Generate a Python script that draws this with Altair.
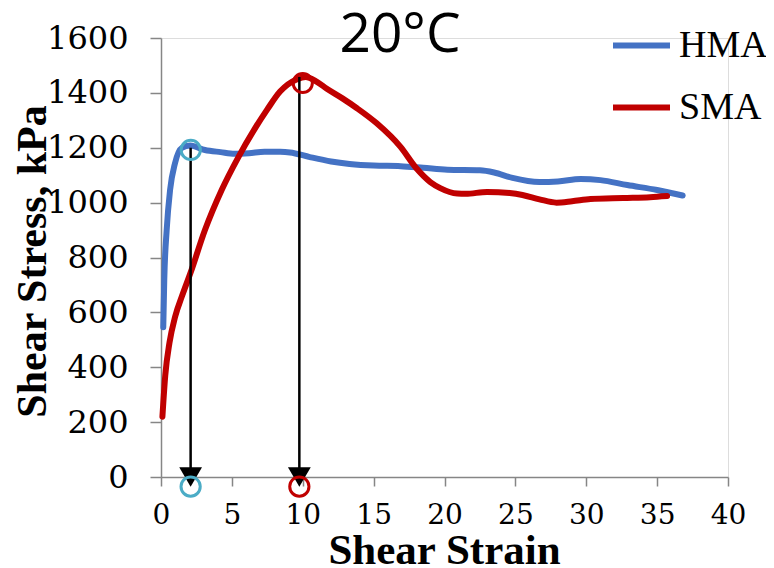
import altair as alt
import pandas as pd

# ---- data ----
hma_strain = [0.16, 0.23, 0.40, 0.64, 0.99, 1.46, 2.05, 3.1, 4.2, 5.2, 6.2, 7.3, 8.4, 9.1,
              10.5, 12.0, 13.3, 15.0, 16.9, 18.5, 20.2, 22.5, 23.5, 24.8, 26.7, 28.0,
              29.6, 31.0, 32.9, 35.0, 36.8]
hma_stress = [546, 718, 900, 1046, 1144, 1199, 1208, 1192, 1184, 1178, 1180, 1185, 1185, 1183,
              1166, 1150, 1141, 1135, 1133, 1127, 1120, 1118, 1110, 1090, 1075, 1077,
              1086, 1082, 1064, 1046, 1026]
sma_strain = [0.1, 0.3, 0.6, 1.0, 1.5, 2.09, 3.1, 4.28, 5.46, 6.6, 7.5, 8.4, 9.6, 10.2,
              11.0, 11.7, 12.8, 13.8, 15.2, 16.9, 18.0, 19.0, 19.7, 20.9, 21.5, 23.0,
              24.6, 25.5, 26.7, 27.9, 29.0, 30.3, 32.6, 34.5, 35.7]
sma_stress = [220, 370, 490, 585, 662, 745, 900, 1046, 1166, 1268, 1340, 1405, 1450, 1458,
              1440, 1415, 1380, 1345, 1290, 1203, 1126, 1075, 1053, 1033, 1032, 1039,
              1035, 1028, 1012, 1000, 1005, 1013, 1017, 1020, 1024]

series = ["HMA", "SMA"]
series_colors = ["#4472C4", "#C00000"]
title_text = ["20°C"]

# peak markers
hma_peak = (2.1, 1192)
sma_peak = (10.0, 1436)
arrow_x = [2.09, 9.76]
arrow_top = [1200, 1458]
arrow_end = [0, 0]
proj_y = -35  # projected circles below the axis

curves = pd.concat([
    pd.DataFrame({"strain": hma_strain, "stress": hma_stress, "series": "HMA",
                  "i": range(len(hma_strain))}),
    pd.DataFrame({"strain": sma_strain, "stress": sma_stress, "series": "SMA",
                  "i": range(len(sma_strain))}),
])
arrows = pd.DataFrame({"x": arrow_x, "top": arrow_top, "end": arrow_end})
hma_marks = pd.DataFrame({"x": [hma_peak[0], arrow_x[0]], "y": [hma_peak[1], proj_y]})
sma_marks = pd.DataFrame({"x": [sma_peak[0], arrow_x[1]], "y": [sma_peak[1], proj_y]})

xscale = alt.Scale(domain=[0, 40], nice=False, zero=False)
yscale = alt.Scale(domain=[0, 1600], nice=False)

gray = "#868686"
xaxis = alt.Axis(values=list(range(0, 41, 5)), grid=False, tickSize=9, tickWidth=1.5,
                 domainWidth=1.5, domainColor=gray, tickColor=gray, labelFlush=False,
                 labelFont="DejaVu Serif", labelFontSize=28, labelColor="black",
                 labelPadding=15, format="d",
                 title="Shear Strain", titleFont="Liberation Serif", titleFontSize=43,
                 titleFontWeight="bold", titleColor="black", titleX=283, titleY=86,
                 titleBaseline="alphabetic")
yaxis = alt.Axis(values=list(range(0, 1601, 200)), grid=False, tickSize=11, tickWidth=1.5,
                 domainWidth=1.5, domainColor=gray, tickColor=gray, labelFlush=False,
                 labelFont="DejaVu Serif", labelFontSize=32, labelColor="black",
                 labelPadding=22, format="d",
                 title="Shear Stress, kPa", titleFont="Liberation Serif", titleFontSize=42,
                 titleFontWeight="bold", titleColor="black", titleAngle=270,
                 titleX=-116, titleY=223, titleBaseline="alphabetic", titleAlign="center")

lines = alt.Chart(curves).mark_line(strokeWidth=6, strokeCap="round", interpolate="monotone").encode(
    x=alt.X("strain:Q", scale=xscale, axis=xaxis),
    y=alt.Y("stress:Q", scale=yscale, axis=yaxis),
    color=alt.Color("series:N", scale=alt.Scale(domain=series, range=series_colors),
                    legend=alt.Legend(title=None, orient="none", legendX=449, legendY=-24,
                                      symbolType="stroke", symbolSize=3249,
                                      symbolStrokeWidth=6, labelFont="Liberation Serif",
                                      labelFontSize=38, labelColor="black", labelOffset=6,
                                      labelLimit=0, rowPadding=11, padding=0)),
    order="i:Q",
)

rules = alt.Chart(arrows).mark_rule(color="black", strokeWidth=2.5).encode(
    x="x:Q", y="top:Q", y2="end:Q")
heads = alt.Chart(arrows).mark_point(shape="triangle-down", filled=True, color="black",
                                     size=520, opacity=1).encode(x="x:Q", y="end:Q")
c1 = alt.Chart(hma_marks).mark_point(shape="circle", filled=False, color="#4BACC6",
                                     size=370, strokeWidth=3, opacity=1).encode(x="x:Q", y="y:Q")
c2 = alt.Chart(sma_marks).mark_point(shape="circle", filled=False, color="#C00000",
                                     size=370, strokeWidth=3, opacity=1).encode(x="x:Q", y="y:Q")

title = alt.Chart(pd.DataFrame({"t": title_text})).mark_text(
    font="Open Sans", fontSize=55, color="black", align="center", baseline="alphabetic"
).encode(text="t:N", x=alt.value(239), y=alt.value(14))

chart = alt.layer(lines, rules, heads, c1, c2, title).properties(
    width=567, height=439,
    autosize=alt.AutoSizeParams(type="none"),
    padding={"left": 153, "top": 30, "right": 38, "bottom": 91},
).configure_view(stroke=None).configure(background="white")

chart.save("out.html", embed_options={"renderer": "svg", "actions": False})
